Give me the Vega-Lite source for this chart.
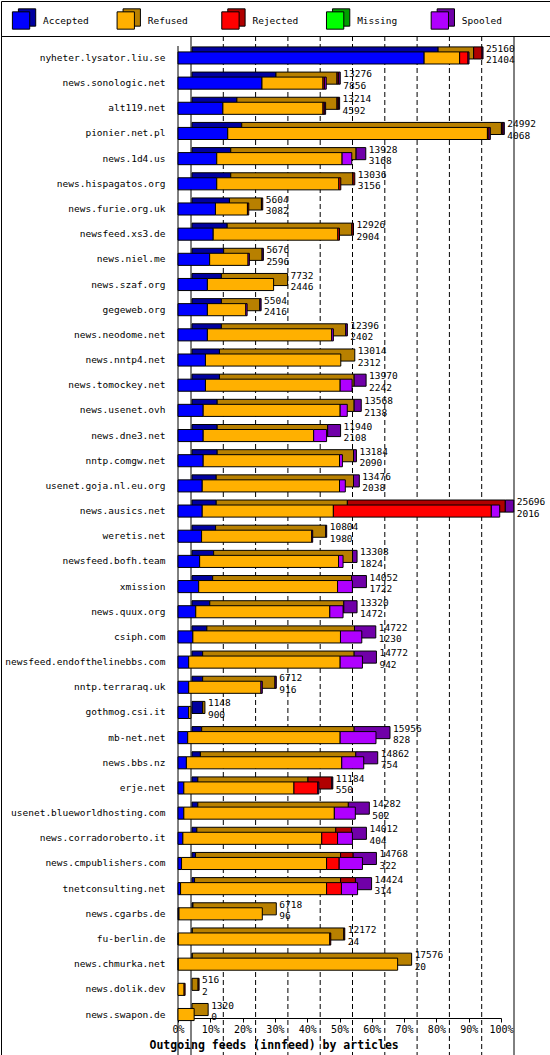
{
  "$schema": "https://vega.github.io/schema/vega-lite/v6.json",
  "background": "white",
  "padding": 0,
  "spacing": 0,
  "bounds": "flush",
  "datasets": {
    "statuses": [
      {"status": "Accepted"}, {"status": "Refused"}, {"status": "Rejected"}, {"status": "Missing"}, {"status": "Spooled"}
    ],
    "grid": [
      {"tick": 0}, {"tick": 10}, {"tick": 20}, {"tick": 30}, {"tick": 40}, {"tick": 50},
      {"tick": 60}, {"tick": 70}, {"tick": 80}, {"tick": 90}, {"tick": 100}
    ],
    "feeds": [
      {"site": "nyheter.lysator.liu.se", "Accepted": 76.2, "Refused": 11.0, "Rejected": 2.6, "Spooled": 0.3, "offered": 25160, "accepted": 21404},
      {"site": "news.sonologic.net", "Accepted": 26.0, "Refused": 18.9, "Rejected": 0.5, "Spooled": 0.5, "offered": 13276, "accepted": 7856},
      {"site": "alt119.net", "Accepted": 13.9, "Refused": 31.0, "Rejected": 0.4, "Spooled": 0.4, "offered": 13214, "accepted": 4592},
      {"site": "pionier.net.pl", "Accepted": 15.4, "Refused": 80.4, "Rejected": 0.5, "Spooled": 0.4, "offered": 24992, "accepted": 4068},
      {"site": "news.1d4.us", "Accepted": 12.0, "Refused": 38.8, "Rejected": 0, "Spooled": 3.0, "offered": 13928, "accepted": 3168},
      {"site": "news.hispagatos.org", "Accepted": 12.0, "Refused": 37.8, "Rejected": 0.6, "Spooled": 0, "offered": 13036, "accepted": 3156},
      {"site": "news.furie.org.uk", "Accepted": 11.6, "Refused": 9.9, "Rejected": 0.4, "Spooled": 0, "offered": 5604, "accepted": 3082},
      {"site": "newsfeed.xs3.de", "Accepted": 10.9, "Refused": 38.6, "Rejected": 0.5, "Spooled": 0, "offered": 12926, "accepted": 2904},
      {"site": "news.niel.me", "Accepted": 9.8, "Refused": 11.9, "Rejected": 0, "Spooled": 0.4, "offered": 5676, "accepted": 2596},
      {"site": "news.szaf.org", "Accepted": 9.1, "Refused": 20.5, "Rejected": 0, "Spooled": 0, "offered": 7732, "accepted": 2446},
      {"site": "gegeweb.org", "Accepted": 9.1, "Refused": 11.9, "Rejected": 0, "Spooled": 0.4, "offered": 5504, "accepted": 2416},
      {"site": "news.neodome.net", "Accepted": 9.1, "Refused": 38.5, "Rejected": 0, "Spooled": 0.5, "offered": 12396, "accepted": 2402},
      {"site": "news.nntp4.net", "Accepted": 8.5, "Refused": 41.9, "Rejected": 0, "Spooled": 0, "offered": 13014, "accepted": 2312},
      {"site": "news.tomockey.net", "Accepted": 8.5, "Refused": 41.7, "Rejected": 0, "Spooled": 3.7, "offered": 13970, "accepted": 2242},
      {"site": "news.usenet.ovh", "Accepted": 7.8, "Refused": 42.4, "Rejected": 0, "Spooled": 2.2, "offered": 13568, "accepted": 2138},
      {"site": "news.dne3.net", "Accepted": 7.8, "Refused": 34.2, "Rejected": 0, "Spooled": 4.0, "offered": 11940, "accepted": 2108},
      {"site": "nntp.comgw.net", "Accepted": 7.8, "Refused": 42.2, "Rejected": 0, "Spooled": 0.9, "offered": 13184, "accepted": 2090},
      {"site": "usenet.goja.nl.eu.org", "Accepted": 7.5, "Refused": 42.5, "Rejected": 0, "Spooled": 1.8, "offered": 13476, "accepted": 2038},
      {"site": "news.ausics.net", "Accepted": 7.5, "Refused": 40.6, "Rejected": 48.9, "Spooled": 2.6, "offered": 25696, "accepted": 2016},
      {"site": "weretis.net", "Accepted": 7.3, "Refused": 34.1, "Rejected": 0, "Spooled": 0.3, "offered": 10804, "accepted": 1980},
      {"site": "newsfeed.bofh.team", "Accepted": 6.7, "Refused": 43.0, "Rejected": 0, "Spooled": 1.4, "offered": 13308, "accepted": 1824},
      {"site": "xmission", "Accepted": 6.4, "Refused": 43.0, "Rejected": 0, "Spooled": 4.6, "offered": 14052, "accepted": 1722},
      {"site": "news.quux.org", "Accepted": 5.5, "Refused": 41.5, "Rejected": 0, "Spooled": 4.1, "offered": 13320, "accepted": 1472},
      {"site": "csiph.com", "Accepted": 4.6, "Refused": 45.7, "Rejected": 0, "Spooled": 6.6, "offered": 14722, "accepted": 1230},
      {"site": "newsfeed.endofthelinebbs.com", "Accepted": 3.3, "Refused": 46.9, "Rejected": 0, "Spooled": 6.9, "offered": 14772, "accepted": 942},
      {"site": "nntp.terraraq.uk", "Accepted": 3.3, "Refused": 22.4, "Rejected": 0, "Spooled": 0.4, "offered": 6712, "accepted": 916},
      {"site": "gothmog.csi.it", "Accepted": 3.3, "Refused": 0.7, "Rejected": 0, "Spooled": 0, "offered": 1148, "accepted": 900},
      {"site": "mb-net.net", "Accepted": 3.0, "Refused": 47.2, "Rejected": 0, "Spooled": 11.1, "offered": 15956, "accepted": 828},
      {"site": "news.bbs.nz", "Accepted": 2.6, "Refused": 48.1, "Rejected": 0, "Spooled": 6.8, "offered": 14862, "accepted": 754},
      {"site": "erje.net", "Accepted": 1.8, "Refused": 34.1, "Rejected": 7.4, "Spooled": 0.3, "offered": 11184, "accepted": 550},
      {"site": "usenet.blueworldhosting.com", "Accepted": 1.8, "Refused": 46.6, "Rejected": 0, "Spooled": 6.5, "offered": 14282, "accepted": 502},
      {"site": "news.corradoroberto.it", "Accepted": 1.5, "Refused": 43.0, "Rejected": 4.9, "Spooled": 4.6, "offered": 14012, "accepted": 404},
      {"site": "news.cmpublishers.com", "Accepted": 1.1, "Refused": 44.9, "Rejected": 3.9, "Spooled": 7.2, "offered": 14768, "accepted": 322},
      {"site": "tnetconsulting.net", "Accepted": 0.8, "Refused": 45.2, "Rejected": 4.6, "Spooled": 5.0, "offered": 14424, "accepted": 314},
      {"site": "news.cgarbs.de", "Accepted": 0.3, "Refused": 25.8, "Rejected": 0, "Spooled": 0, "offered": 6718, "accepted": 96},
      {"site": "fu-berlin.de", "Accepted": 0.1, "Refused": 46.9, "Rejected": 0.3, "Spooled": 0, "offered": 12172, "accepted": 24},
      {"site": "news.chmurka.net", "Accepted": 0.1, "Refused": 67.9, "Rejected": 0, "Spooled": 0, "offered": 17576, "accepted": 20},
      {"site": "news.dolik.dev", "Accepted": 0, "Refused": 1.9, "Rejected": 0.3, "Spooled": 0, "offered": 516, "accepted": 2},
      {"site": "news.swapon.de", "Accepted": 0, "Refused": 5.0, "Rejected": 0, "Spooled": 0, "offered": 1320, "accepted": 0}
    ]
  },
  "vconcat": [
    {
      "data": {"name": "statuses"},
      "width": 549,
      "height": 35,
      "view": {"stroke": "black", "strokeWidth": 1},
      "encoding": {
        "x": {
          "field": "status", "type": "nominal", "sort": null, "axis": null,
          "scale": {"type": "point", "domain": ["Accepted", "Refused", "Rejected", "Missing", "Spooled"], "padding": 0.622, "align": 0.154}
        }
      },
      "layer": [
        {
          "mark": {"type": "square", "size": 300, "xOffset": 6, "yOffset": -1, "opacity": 1, "stroke": "black", "strokeWidth": 1},
          "encoding": {
            "color": {"field": "status", "type": "nominal", "legend": null,
              "scale": {"domain": ["Accepted", "Refused", "Rejected", "Missing", "Spooled"], "range": ["#0000a0", "#b88000", "#b00000", "#00a000", "#7000a8"]}}
          }
        },
        {
          "mark": {"type": "square", "size": 300, "yOffset": 2, "opacity": 1, "stroke": "black", "strokeWidth": 1},
          "encoding": {
            "fill": {"field": "status", "type": "nominal", "legend": null,
              "scale": {"domain": ["Accepted", "Refused", "Rejected", "Missing", "Spooled"], "range": ["#0000ff", "#ffb000", "#ff0000", "#00ff00", "#b000ff"]}}
          }
        },
        {
          "mark": {"type": "text", "dx": 22, "dy": 2.5, "align": "left", "baseline": "middle", "font": "DejaVu Sans Mono", "fontSize": 9.5, "color": "black"},
          "encoding": {"text": {"field": "status"}}
        }
      ],
      "resolve": {"scale": {"color": "independent", "fill": "independent"}}
    },
    {
      "data": {"name": "feeds"},
      "width": 549,
      "height": 1019,
      "view": {"stroke": "black", "strokeWidth": 1},
      "layer": [
        {
          "data": {"name": "grid"},
          "transform": [{"filter": "datum.tick > 0 && datum.tick < 100"}],
          "mark": {"type": "rule", "xOffset": 13, "y2Offset": -44, "color": "black", "strokeWidth": 1, "strokeDash": [5, 3]},
          "encoding": {"x": {"field": "tick", "type": "quantitative", "scale": {"domain": [0, 100], "nice": false, "range": [177, 500]}}}
        },
        {
          "data": {"name": "grid"},
          "transform": [{"filter": "datum.tick == 0 || datum.tick == 100"}],
          "mark": {"type": "rule", "xOffset": 13, "y2Offset": -44, "color": "black", "strokeWidth": 1},
          "encoding": {"x": {"field": "tick", "type": "quantitative", "scale": {"domain": [0, 100], "nice": false, "range": [177, 500]}}}
        },
        {
          "data": {"name": "grid"},
          "transform": [{"filter": "datum.tick == 0"}],
          "mark": {"type": "rule", "yOffset": 10, "y2Offset": -37, "color": "black", "strokeWidth": 1},
          "encoding": {"x": {"field": "tick", "type": "quantitative", "scale": {"domain": [0, 100], "nice": false, "range": [177, 500]}}}
        },
        {
          "transform": [
            {"fold": ["Accepted", "Refused", "Rejected", "Spooled"], "as": ["status", "pct"]},
            {"filter": "datum.pct > 0"}
          ],
          "mark": {"type": "bar", "xOffset": 14, "x2Offset": 14, "yOffset": -5, "y2Offset": -5, "stroke": "black", "strokeWidth": 1},
          "encoding": {
            "y": {"field": "site", "type": "nominal", "sort": null, "scale": {"paddingInner": 0.52, "paddingOuter": 1.14, "align": 0.316}},
            "x": {"field": "pct", "type": "quantitative", "stack": "zero", "scale": {"domain": [0, 100], "nice": false, "range": [177, 500]}},
            "color": {"field": "status", "type": "nominal", "legend": null,
              "scale": {"domain": ["Accepted", "Refused", "Rejected", "Missing", "Spooled"], "range": ["#0000a0", "#b88000", "#b00000", "#00a000", "#7000a8"]}}
          }
        },
        {
          "transform": [
            {"fold": ["Accepted", "Refused", "Rejected", "Spooled"], "as": ["status", "pct"]},
            {"filter": "datum.pct > 0"}
          ],
          "mark": {"type": "bar", "stroke": "black", "strokeWidth": 1},
          "encoding": {
            "y": {
              "field": "site", "type": "nominal", "sort": null,
              "scale": {"paddingInner": 0.52, "paddingOuter": 1.14, "align": 0.316},
              "axis": {"title": null, "offset": -177, "ticks": false, "domain": false, "labelPadding": 13, "labelLimit": 0, "labelFont": "DejaVu Sans Mono", "labelFontSize": 9.5, "labelColor": "black"}
            },
            "x": {
              "field": "pct", "type": "quantitative", "stack": "zero",
              "scale": {"domain": [0, 100], "nice": false, "range": [177, 500]},
              "axis": {
                "offset": -37,
                "values": [0, 10, 20, 30, 40, 50, 60, 70, 80, 90, 100],
                "labelExpr": "datum.value + '%'",
                "labelOverlap": false, "labelFlush": false,
                "grid": false,
                "tickSize": 4, "tickColor": "black", "domainColor": "black",
                "labelPadding": 2, "labelFont": "DejaVu Sans Mono", "labelFontSize": 10, "labelColor": "black",
                "title": "Outgoing feeds (innfeed) by articles",
                "titleFont": "DejaVu Sans Mono", "titleFontWeight": "bold", "titleFontSize": 11.5, "titleColor": "black",
                "titleAnchor": "start", "titleAlign": "left", "titleX": 148, "titleY": 30, "titleBaseline": "alphabetic"
              }
            },
            "fill": {"field": "status", "type": "nominal", "legend": null,
              "scale": {"domain": ["Accepted", "Refused", "Rejected", "Missing", "Spooled"], "range": ["#0000ff", "#ffb000", "#ff0000", "#00ff00", "#b000ff"]}}
          }
        },
        {
          "transform": [
            {"fold": ["Accepted", "Refused", "Rejected", "Spooled"], "as": ["status", "pct"]},
            {"aggregate": [{"op": "sum", "field": "pct", "as": "end"}], "groupby": ["site", "offered", "accepted"]}
          ],
          "encoding": {
            "y": {"field": "site", "type": "nominal", "sort": null, "scale": {"paddingInner": 0.52, "paddingOuter": 1.14, "align": 0.316}},
            "x": {"field": "end", "type": "quantitative", "scale": {"domain": [0, 100], "nice": false, "range": [177, 500]}}
          },
          "layer": [
            {
              "mark": {"type": "text", "align": "left", "baseline": "middle", "dx": 17, "dy": -9, "font": "DejaVu Sans Mono", "fontSize": 9.5, "color": "black"},
              "encoding": {"text": {"field": "offered"}}
            },
            {
              "mark": {"type": "text", "align": "left", "baseline": "middle", "dx": 17, "dy": 2.5, "font": "DejaVu Sans Mono", "fontSize": 9.5, "color": "black"},
              "encoding": {"text": {"field": "accepted"}}
            }
          ]
        }
      ],
      "resolve": {"scale": {"color": "independent", "fill": "independent"}}
    }
  ],
  "config": {
    "view": {"stroke": null}
  }
}
